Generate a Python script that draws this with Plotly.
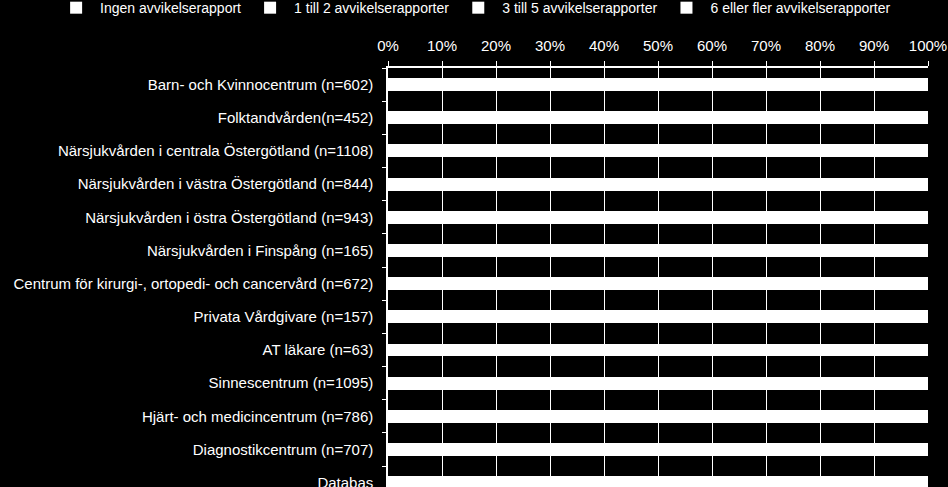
import plotly.graph_objects as go

# Units, top to bottom as shown in the chart
units = [
    "Barn- och Kvinnocentrum (n=602)",
    "Folktandvården(n=452)",
    "Närsjukvården i centrala Östergötland (n=1108)",
    "Närsjukvården i västra Östergötland (n=844)",
    "Närsjukvården i östra Östergötland (n=943)",
    "Närsjukvården i Finspång (n=165)",
    "Centrum för kirurgi-, ortopedi- och cancervård (n=672)",
    "Privata Vårdgivare (n=157)",
    "AT läkare (n=63)",
    "Sinnescentrum (n=1095)",
    "Hjärt- och medicincentrum (n=786)",
    "Diagnostikcentrum (n=707)",
    "Databas",
]

# Share of respondents per number of deviation reports (all bars are white in
# the source, so the split is an estimate; each row sums to 1)
ingen = [0.38, 0.55, 0.52, 0.50, 0.49, 0.56, 0.36, 0.70, 0.41, 0.44, 0.37, 0.47, 0.46]
en_till_tva = [0.34, 0.30, 0.31, 0.32, 0.32, 0.29, 0.33, 0.22, 0.37, 0.32, 0.34, 0.31, 0.32]
tre_till_fem = [0.19, 0.11, 0.12, 0.13, 0.13, 0.11, 0.20, 0.06, 0.16, 0.16, 0.19, 0.15, 0.15]
sex_eller_fler = [0.09, 0.04, 0.05, 0.05, 0.06, 0.04, 0.11, 0.02, 0.06, 0.08, 0.10, 0.07, 0.07]

series = [
    ("Ingen avvikelserapport", ingen),
    ("1 till 2 avvikelserapporter", en_till_tva),
    ("3 till 5 avvikelserapporter", tre_till_fem),
    ("6 eller fler avvikelserapporter", sex_eller_fler),
]

font_family = "Liberation Sans, Arial, sans-serif"

fig = go.Figure()
for name, values in series:
    fig.add_trace(go.Bar(
        y=units, x=values, name=name, orientation="h",
        marker=dict(color="white", line=dict(width=0)),
    ))

fig.update_layout(
    width=948, height=487,
    paper_bgcolor="black", plot_bgcolor="black",
    barmode="stack", bargap=0.61,
    margin=dict(l=388, r=20, t=68, b=0, autoexpand=False),
    font=dict(family=font_family, size=15, color="white"),
    showlegend=True,
    legend=dict(
        orientation="h",
        x=-0.622, y=1.143, xanchor="left", yanchor="middle",
        font=dict(size=14, color="white"),
        bgcolor="rgba(0,0,0,0)", traceorder="normal",
        itemwidth=38,
    ),
)

fig.update_xaxes(
    side="top", range=[0, 1], dtick=0.1, tickformat=".0%",
    showgrid=True, gridcolor="white", gridwidth=1,
    showline=True, linecolor="white", linewidth=1.5,
    ticks="outside", ticklen=5, tickcolor="white",
    ticklabelstandoff=4,
    zeroline=False, fixedrange=True,
    tickfont=dict(size=15, color="white"),
)
fig.update_yaxes(
    categoryorder="array", categoryarray=units,
    range=[12.13, -0.5],
    showgrid=False, showline=True, linecolor="white", linewidth=1.5,
    ticks="outside", ticklen=4, tickcolor="white", tickson="boundaries",
    ticklabelstandoff=10,
    tickfont=dict(size=15, color="white"),
    fixedrange=True,
)

fig.write_html(
    "out.html",
    config={"displayModeBar": False},
    post_script="document.body.style.margin='0';document.body.style.background='black';",
)
